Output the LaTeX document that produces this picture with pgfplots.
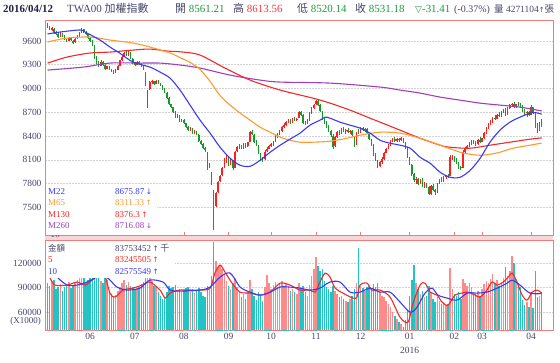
\documentclass[border=0pt]{standalone}
\usepackage{fontspec}
\setmainfont{Liberation Serif}
\newfontfamily\cjk{Noto Sans CJK TC}
\newfontfamily\dv{DejaVu Sans}
\usepackage{pgfplots}
\usepackage{pgfplotstable}
\pgfplotsset{compat=1.18}
\definecolor{cup}{HTML}{FF1E1E}
\definecolor{cdn}{HTML}{149A28}
\definecolor{vup}{HTML}{FF8A8A}
\definecolor{vdn}{HTML}{22C3C3}
\definecolor{mA}{HTML}{3A3AF5}
\definecolor{mB}{HTML}{FF9A2E}
\definecolor{mC}{HTML}{F52828}
\definecolor{mD}{HTML}{A040B8}
\definecolor{frm}{HTML}{F07C7C}
\definecolor{lbl}{HTML}{45456A}
\definecolor{hgreen}{HTML}{1E9A3C}
\definecolor{hred}{HTML}{F03A3A}
\definecolor{band}{HTML}{F6D6D6}
\definecolor{hdr}{HTML}{22224A}

\pgfplotstableread{
i o h l c v
0 9800 9825 9760 9775 95000
1 9770 9785 9735 9745 92000
2 9740 9775 9730 9765 97000
3 9750 9760 9700 9705 99000
4 9710 9730 9680 9690 88000
5 9690 9700 9640 9650 91000
6 9650 9710 9645 9700 94000
7 9700 9705 9650 9660 86000
8 9655 9670 9610 9620 90000
9 9615 9630 9585 9600 93000
10 9600 9650 9595 9640 97000
11 9640 9650 9600 9610 89000
12 9600 9615 9570 9580 92000
13 9585 9640 9580 9630 96000
14 9630 9670 9620 9660 99000
15 9665 9710 9655 9700 104000
16 9700 9760 9695 9740 108000
17 9745 9755 9705 9720 101000
18 9715 9725 9680 9690 97000
19 9685 9690 9630 9640 99000
20 9640 9655 9590 9600 102000
21 9595 9610 9540 9560 106000
22 9530 9545 9370 9390 118000
23 9390 9410 9310 9330 108000
24 9335 9350 9270 9290 103000
25 9290 9355 9280 9340 98000
26 9335 9345 9290 9300 96000
27 9300 9310 9240 9250 104000
28 9250 9290 9240 9280 99000
29 9275 9285 9230 9240 86000
30 9240 9250 9210 9220 82000
31 9220 9235 9190 9200 79000
32 9200 9240 9190 9230 81000
33 9235 9295 9230 9290 86000
34 9290 9365 9285 9360 91000
35 9360 9410 9350 9400 95000
36 9400 9460 9395 9450 99000
37 9455 9480 9410 9420 93000
38 9420 9485 9415 9470 97000
39 9460 9465 9370 9380 92000
40 9375 9385 9310 9320 90000
41 9320 9330 9280 9300 88000
42 9300 9350 9295 9340 89000
43 9340 9350 9300 9310 91000
44 9310 9320 9270 9280 94000
45 9280 9290 9240 9250 97000
46 9200 9210 9030 9050 112000
47 8820 8980 8750 8960 125000
48 8990 9100 8980 9080 108000
49 9085 9110 9060 9090 98000
50 9090 9100 9045 9060 92000
51 9060 9110 9055 9100 90000
52 9100 9105 9060 9070 84000
53 9065 9075 9030 9040 79000
54 9030 9040 8980 8990 76000
55 8990 9000 8940 8950 78000
56 8940 8950 8870 8880 85000
57 8880 8890 8790 8800 92000
58 8800 8810 8750 8760 89000
59 8760 8770 8690 8700 90000
60 8700 8715 8630 8640 93000
61 8640 8680 8630 8660 86000
62 8655 8665 8580 8590 88000
63 8590 8620 8575 8610 85000
64 8605 8615 8550 8560 87000
65 8560 8570 8510 8520 89000
66 8520 8530 8460 8470 91000
67 8470 8510 8460 8500 84000
68 8495 8505 8430 8440 88000
69 8440 8470 8430 8460 83000
70 8455 8465 8410 8420 86000
71 8410 8420 8330 8340 89000
72 8340 8350 8290 8300 85000
73 8300 8310 8240 8250 80000
74 8250 8260 8200 8220 78000
75 8190 8200 7970 8010 92000
76 8000 8060 7990 8040 88000
77 7930 7940 7780 7800 104000
78 7700 7720 7210 7410 145000
79 7520 7690 7500 7680 122000
80 7690 7830 7680 7820 115000
81 7830 7910 7820 7900 118000
82 7910 8010 7900 8000 112000
83 8010 8120 8000 8100 106000
84 8100 8160 8060 8150 98000
85 8140 8150 8020 8050 92000
86 8050 8110 8030 8080 88000
87 8080 8095 7970 7990 95000
88 8000 8210 7995 8200 102000
89 8210 8270 8200 8260 90000
90 8260 8300 8240 8280 85000
91 8280 8290 8230 8250 78000
92 8250 8310 8240 8300 82000
93 8300 8315 8250 8270 76000
94 8270 8330 8260 8320 84000
95 8330 8460 8320 8450 99000
96 8450 8480 8410 8420 88000
97 8410 8420 8320 8330 80000
98 8330 8345 8280 8290 75000
99 8280 8290 8170 8180 85000
100 8180 8190 8090 8120 81000
101 8120 8140 8070 8100 73000
102 8110 8220 8100 8200 90000
103 8210 8260 8200 8240 105000
104 8240 8290 8230 8280 95000
105 8280 8310 8260 8300 88000
106 8300 8340 8280 8330 93000
107 8340 8410 8330 8400 97000
108 8400 8435 8380 8420 91000
109 8420 8470 8410 8460 94000
110 8460 8530 8450 8520 98000
111 8520 8560 8500 8540 92000
112 8540 8590 8530 8580 95000
113 8580 8610 8560 8600 90000
114 8600 8615 8560 8570 86000
115 8570 8630 8565 8620 88000
116 8620 8640 8590 8600 84000
117 8600 8630 8590 8620 82000
118 8630 8710 8625 8700 95000
119 8700 8720 8660 8670 89000
120 8665 8675 8560 8570 92000
121 8570 8585 8540 8560 84000
122 8560 8610 8550 8600 80000
123 8600 8700 8595 8690 93000
124 8690 8760 8680 8750 104000
125 8750 8800 8740 8790 112000
126 8800 8850 8790 8840 127000
127 8845 8860 8780 8790 116000
128 8790 8800 8700 8710 110000
129 8700 8715 8600 8620 113000
130 8620 8640 8550 8570 98000
131 8570 8590 8500 8520 90000
132 8520 8540 8450 8460 88000
133 8460 8480 8390 8410 84000
134 8400 8420 8230 8260 92000
135 8270 8400 8260 8390 86000
136 8390 8460 8380 8450 82000
137 8450 8470 8410 8430 78000
138 8430 8500 8420 8490 80000
139 8490 8510 8450 8460 76000
140 8460 8490 8430 8480 74000
141 8480 8500 8440 8450 72000
142 8450 8470 8420 8460 76000
143 8460 8470 8400 8410 80000
144 8390 8395 8260 8280 88000
145 8290 8450 8285 8440 96000
146 8470 8490 8430 8450 138000
147 8450 8510 8440 8500 92000
148 8500 8515 8460 8470 89000
149 8470 8500 8455 8490 86000
150 8490 8500 8430 8440 90000
151 8440 8450 8350 8360 92000
152 8350 8360 8270 8290 88000
153 8290 8300 8150 8170 94000
154 8170 8180 8080 8100 90000
155 8090 8095 7990 8010 95000
156 8020 8090 8010 8070 85000
157 8070 8130 8050 8110 80000
158 8110 8200 8100 8190 78000
159 8190 8250 8180 8240 74000
160 8240 8300 8230 8290 70000
161 8290 8350 8280 8340 66000
162 8340 8370 8320 8360 60000
163 8360 8385 8330 8340 55000
164 8340 8375 8320 8360 52000
165 8360 8380 8330 8350 48000
166 8350 8385 8340 8370 45000
167 8370 8380 8310 8320 42000
168 8320 8330 8240 8250 50000
169 8250 8260 8130 8140 62000
170 8130 8140 8040 8050 80000
171 8040 8050 7900 7920 99000
172 7920 7930 7820 7840 117000
173 7840 7880 7790 7860 95000
174 7860 7870 7780 7800 88000
175 7800 7860 7790 7850 82000
176 7850 7870 7760 7780 86000
177 7780 7820 7740 7800 78000
178 7800 7810 7740 7760 80000
179 7760 7770 7650 7670 92000
180 7670 7780 7660 7770 85000
181 7770 7790 7700 7720 76000
182 7720 7730 7660 7690 72000
183 7690 7810 7680 7800 78000
184 7800 7860 7790 7850 74000
185 7850 7880 7820 7830 70000
186 7830 7890 7820 7880 72000
187 7880 7910 7860 7900 68000
188 7900 7920 7870 7890 70000
189 7900 8160 7895 8140 114000
190 8130 8165 8100 8150 88000
191 8140 8150 8080 8090 82000
192 8110 8120 8050 8060 80000
193 8060 8070 7990 8000 84000
194 8010 8020 7970 7990 76000
195 8000 8220 7995 8200 100000
196 8200 8260 8190 8250 95000
197 8250 8290 8230 8280 92000
198 8280 8320 8260 8300 96000
199 8300 8350 8290 8340 90000
200 8340 8355 8300 8320 85000
201 8320 8340 8280 8300 82000
202 8300 8360 8290 8350 86000
203 8350 8390 8320 8330 80000
204 8330 8380 8320 8370 88000
205 8370 8450 8360 8440 94000
206 8440 8510 8430 8500 98000
207 8500 8560 8490 8550 96000
208 8550 8600 8540 8590 100000
209 8590 8640 8570 8630 106000
210 8630 8660 8600 8620 95000
211 8620 8680 8610 8670 99000
212 8670 8700 8640 8650 92000
213 8650 8710 8640 8700 96000
214 8700 8740 8690 8730 102000
215 8740 8750 8650 8670 115000
216 8680 8760 8670 8750 104000
217 8750 8800 8740 8790 110000
218 8790 8820 8770 8810 128000
219 8810 8830 8760 8770 120000
220 8770 8810 8750 8800 100000
221 8800 8830 8780 8790 96000
222 8790 8820 8760 8770 90000
223 8770 8790 8700 8720 75000
224 8720 8740 8660 8690 68000
225 8690 8720 8640 8700 72000
226 8700 8720 8650 8670 66000
227 8670 8790 8660 8760 85000
228 8760 8770 8680 8700 65000
229 8690 8700 8500 8520 110000
230 8520 8560 8440 8470 78000
231 8470 8575 8460 8563 79500
232 8561 8614 8520 8531 83753
}\kdata

\begin{document}
\begin{tikzpicture}[x=1bp,y=1bp]
\path[use as bounding box] (0,0) rectangle (560,362);
\fill[band] (45,122) rectangle (553,127);

% ---------- price panel ----------
\begin{axis}[
  at={(45bp,127bp)}, anchor=south west, scale only axis,
  width=508bp, height=215bp,
  xmin=-1.2, xmax=237.3, ymin=7150, ymax=9865,
  axis line style={draw=frm, line width=0.8bp},
  xtick={20,41,64,85,105,126,147,170,191,204,227},
  xticklabels={,,,,,,,,,,,},
  ytick={7500,7800,8100,8400,8700,9000,9300,9600},
  yticklabels={7500,7800,8100,8400,8700,9000,9300,9600},
  yticklabel style={font=\fontsize{9.5}{10}\selectfont, text=lbl},
  xtick pos=left, ytick pos=left,
  major tick length=3bp,
  xtick style={draw=frm, line width=0.6bp},
  ytick style={draw=none},
  ymajorgrids, grid style={dash pattern=on 1.5bp off 1.5bp, draw=gray!35, line width=0.5bp},
]
% wicks
\addplot[draw=none, mark=none, forget plot,
  error bars/.cd, y dir=both, y explicit, error mark=none,
  error bar style={draw=cup, line width=0.6bp}]
  table[x=i, y expr={\thisrow{c}<\thisrow{o} ? 0 : \thisrow{c}},
        y error plus expr={\thisrow{h}-\thisrow{c}},
        y error minus expr={\thisrow{c}-\thisrow{l}}] {\kdata};
\addplot[draw=none, mark=none, forget plot,
  error bars/.cd, y dir=both, y explicit, error mark=none,
  error bar style={draw=cdn, line width=0.6bp}]
  table[x=i, y expr={\thisrow{c}<\thisrow{o} ? \thisrow{c} : 0},
        y error plus expr={\thisrow{h}-\thisrow{c}},
        y error minus expr={\thisrow{c}-\thisrow{l}}] {\kdata};
% bodies
\addplot[draw=none, mark=none, forget plot,
  error bars/.cd, y dir=both, y explicit, error mark=none,
  error bar style={draw=cup, line width=1.5bp}]
  table[x=i, y expr={\thisrow{c}<\thisrow{o} ? 0 : \thisrow{c}},
        y error plus expr={0},
        y error minus expr={\thisrow{c}-\thisrow{o}}] {\kdata};
\addplot[draw=none, mark=none, forget plot,
  error bars/.cd, y dir=both, y explicit, error mark=none,
  error bar style={draw=cdn, line width=1.5bp}]
  table[x=i, y expr={\thisrow{c}<\thisrow{o} ? \thisrow{c} : 0},
        y error plus expr={\thisrow{o}-\thisrow{c}},
        y error minus expr={0}] {\kdata};
% moving averages
\addplot[mD, line width=1.1bp, smooth, mark=none] coordinates {
(0,9233)(16.7,9270)(29.3,9321)(43.4,9321)(52.8,9321)(62.2,9296)(71.6,9258)(85.7,9169)(99.8,9106)(109.2,9081)(132.6,9068)(156.1,9018)(165.5,8980)(174.9,8942)(184.3,8891)(193.7,8853)(203.1,8815)(212.4,8790)(221.8,8765)(232,8716)};
\addplot[mC, line width=1.1bp, smooth, mark=none] coordinates {
(0,9321)(9.2,9397)(20,9448)(29.3,9460)(40.1,9485)(48.1,9498)(56.1,9473)(63.6,9460)(71.6,9422)(83.3,9258)(95.1,9106)(109.2,8980)(124.6,8878)(132.6,8815)(142,8727)(151.4,8625)(156.1,8575)(165.5,8474)(174.9,8372)(184.3,8284)(189,8258)(198.4,8246)(207.7,8284)(217.1,8322)(226.5,8360)(232,8376)};
\addplot[mB, line width=1.1bp, smooth, mark=none] coordinates {
(0,9587)(9.2,9637)(20,9650)(29.3,9612)(40.1,9574)(48.1,9523)(57.5,9448)(62.2,9390)(66.9,9330)(71.6,9240)(76.3,9090)(81,8910)(85.7,8790)(90.4,8689)(95.1,8600)(99.8,8511)(104.5,8448)(109.2,8385)(113.8,8347)(118.5,8322)(124.6,8322)(132.6,8334)(140.6,8372)(146.7,8410)(156.1,8448)(165.5,8436)(174.9,8372)(184.3,8284)(193.7,8195)(198.4,8170)(203.1,8157)(207.7,8170)(212.4,8195)(218.5,8246)(226.5,8284)(232,8311)};
\addplot[mA, line width=1.1bp, smooth, mark=none] coordinates {
(0,9688)(5.9,9713)(15.3,9739)(17.6,9713)(24.6,9612)(29.3,9523)(33.8,9448)(40.1,9334)(48.1,9270)(52.8,9207)(57.5,9131)(62.2,8980)(66.9,8790)(71.6,8600)(76.3,8436)(81,8258)(85.7,8119)(90.4,8031)(95.1,8018)(99.8,8094)(104.5,8195)(109.2,8284)(113.8,8360)(118.5,8436)(123.2,8537)(127.9,8600)(130.3,8638)(132.6,8625)(137.3,8575)(142,8537)(146.7,8499)(151.4,8436)(156.1,8347)(160.8,8309)(165.5,8284)(170.2,8246)(174.9,8132)(179.6,8056)(184.3,7942)(189,7879)(193.7,7879)(198.4,7967)(203.1,8119)(207.7,8322)(212.4,8474)(217.1,8575)(221.8,8638)(226.5,8689)(229,8695)(232,8676)};
\end{axis}

% ---------- volume panel ----------
\begin{axis}[
  at={(45bp,32bp)}, anchor=south west, scale only axis,
  width=508bp, height=90bp,
  xmin=-1.2, xmax=237.3, ymin=38000, ymax=148000,
  axis line style={draw=frm, line width=0.8bp},
  xtick={20,41,64,85,105,126,147,170,191,204,227},
  xticklabels={06,07,08,09,10,11,12,{01\\2016},02,03,04},
  xticklabel style={font=\fontsize{9.5}{14}\selectfont, text=lbl, align=center},
  ytick={60000,90000,120000},
  yticklabels={60000,90000,120000},
  yticklabel style={font=\fontsize{9.5}{10}\selectfont, text=lbl},
  xtick pos=left, ytick pos=left,
  major tick length=3bp,
  xtick style={draw=frm, line width=0.6bp},
  ytick style={draw=none},
  ymajorgrids, grid style={dash pattern=on 1.5bp off 1.5bp, draw=gray!35, line width=0.5bp},
]
\addplot[ycomb, draw=vup, line width=1.5bp, mark=none, forget plot]
  table[x=i, y expr={\thisrow{c}<\thisrow{o} ? 0 : \thisrow{v}}] {\kdata};
\addplot[ycomb, draw=vdn, line width=1.5bp, mark=none, forget plot]
  table[x=i, y expr={\thisrow{c}<\thisrow{o} ? \thisrow{v} : 0}] {\kdata};
\addplot[mC, line width=1.1bp, smooth, mark=none] coordinates {
(1.2,101500)(3.5,92900)(9.2,92900)(13.8,96570)(17.6,92900)(20.9,99020)(24.6,108800)(27,103900)(29.3,83100)(31.7,78200)(35.4,86800)(40.1,89200)(44.4,92900)(48.1,96600)(52.8,86800)(55.2,77000)(57.5,83100)(62.2,86800)(71.6,86800)(76.3,89200)(78.6,107600)(81,117400)(83.3,108800)(86.6,95300)(90.4,84300)(95.1,83100)(99.8,80650)(104.5,84300)(109.2,95300)(113.8,92900)(118.5,86800)(123.2,86800)(125.6,84300)(127.9,96600)(130.3,107600)(132.6,102700)(135,89200)(138.7,83100)(143.4,77000)(145.3,78200)(146.7,92900)(150,95300)(152.3,86800)(156.1,86800)(160.8,78200)(165.5,53700)(169.2,47600)(171.6,70900)(174.9,92900)(177.2,95300)(179.6,84300)(182.9,80650)(185.2,72100)(188,68400)(191.3,80650)(194.6,83100)(197.4,84300)(200.7,80650)(203.1,78200)(206.3,86800)(208.7,96600)(211.1,92900)(213.9,96600)(216.3,102700)(218.1,107600)(220.4,96600)(222.8,80650)(225.1,74500)(227.5,84300)(229.9,86800)(232,83245)};
\addplot[mA, line width=1.1bp, smooth, mark=none] coordinates {
(4.9,101500)(9.2,92900)(13.8,92900)(18.5,96600)(22.3,101500)(25.6,106400)(29.3,99000)(32.6,90450)(37.3,86800)(43.4,89200)(48.1,99000)(54.2,96600)(57.5,86800)(62.2,85550)(71.6,86800)(76.3,90450)(81,102700)(85.7,107600)(90.4,90450)(95.1,84300)(99.8,80650)(104.5,84300)(109.2,90450)(113.8,90450)(118.5,89200)(123.2,86800)(127.9,89200)(132.6,96600)(137.3,96600)(142,84300)(146.7,84300)(151.4,89200)(156.1,84300)(160.8,84300)(165.5,72100)(170.2,59800)(173.5,66000)(177.2,83100)(180.5,89200)(183.3,80650)(187.6,77000)(192.3,74500)(197,83100)(201.6,83100)(206.3,84300)(211.1,89200)(215.8,95300)(218.1,99000)(221.8,92900)(226.5,83100)(232,82575)};
\end{axis}

% ---------- legend boxes ----------
\fill[white] (45.5,127.5) rectangle (157,177);
\fill[white] (45.5,84) rectangle (175,121.5);
\begin{scope}[every node/.style={anchor=west, inner sep=0, font=\fontsize{9}{9}\selectfont}]
\node[text=mA] at (48,170.5) {M22};
\node[text=mA] at (115,170.5) {8675.87\,{\dv\fontsize{7.5}{7.5}\selectfont↓}};
\node[text=mB] at (48,159) {M65};
\node[text=mB] at (115,159) {8311.33\,{\dv\fontsize{7.5}{7.5}\selectfont↑}};
\node[text=mC] at (48,147.5) {M130};
\node[text=mC] at (115,147.5) {8376.3\,{\dv\fontsize{7.5}{7.5}\selectfont↑}};
\node[text=mD] at (48,136) {M260};
\node[text=mD] at (115,136) {8716.08\,{\dv\fontsize{7.5}{7.5}\selectfont↓}};
\node[text=lbl, font=\fontsize{8.5}{8.5}\cjk] at (48,114) {金額};
\node[text=lbl] at (115,114) {83753452\,{\dv\fontsize{7.5}{7.5}\selectfont↑}\,{\cjk 千}};
\node[text=mC] at (48,102) {5};
\node[text=mC] at (115,102) {83245505\,{\dv\fontsize{7.5}{7.5}\selectfont↑}};
\node[text=mA] at (48,90) {10};
\node[text=mA] at (115,90) {82575549\,{\dv\fontsize{7.5}{7.5}\selectfont↑}};
\end{scope}
\node[anchor=east, inner sep=0, text=lbl, font=\fontsize{9}{10}\selectfont] at (41,41) {(X1000)};

% ---------- header ----------
\begin{scope}[every node/.style={anchor=base west, inner sep=0, font=\fontsize{11}{12}\selectfont}]
\node[text=hdr] at (3,350) {\bfseries 2016/04/12};
\node[text=lbl] at (67,350) {TWA00 {\cjk 加權指數}};
\node[text=lbl] at (175,350) {{\cjk 開} \textcolor{hgreen}{8561.21}};
\node[text=lbl] at (233,350) {{\cjk 高} \textcolor{hred}{8613.56}};
\node[text=lbl] at (297,350) {{\cjk 低} \textcolor{hgreen}{8520.14}};
\node[text=lbl] at (355,350) {{\cjk 收} \textcolor{hgreen}{8531.18}};
\node[text=hgreen] at (415,350) {{\dv\fontsize{9}{9}\selectfont ▽}-31.41};
\node[text=lbl, font=\fontsize{10}{11}\selectfont] at (454,350) {(-0.37\%)};
\node[text=lbl, font=\fontsize{9.5}{10}\selectfont] at (494,350) {{\cjk 量} 4271104{\dv\fontsize{7}{7}\selectfont↑}{\cjk 張}};
\end{scope}
\end{tikzpicture}
\end{document}
